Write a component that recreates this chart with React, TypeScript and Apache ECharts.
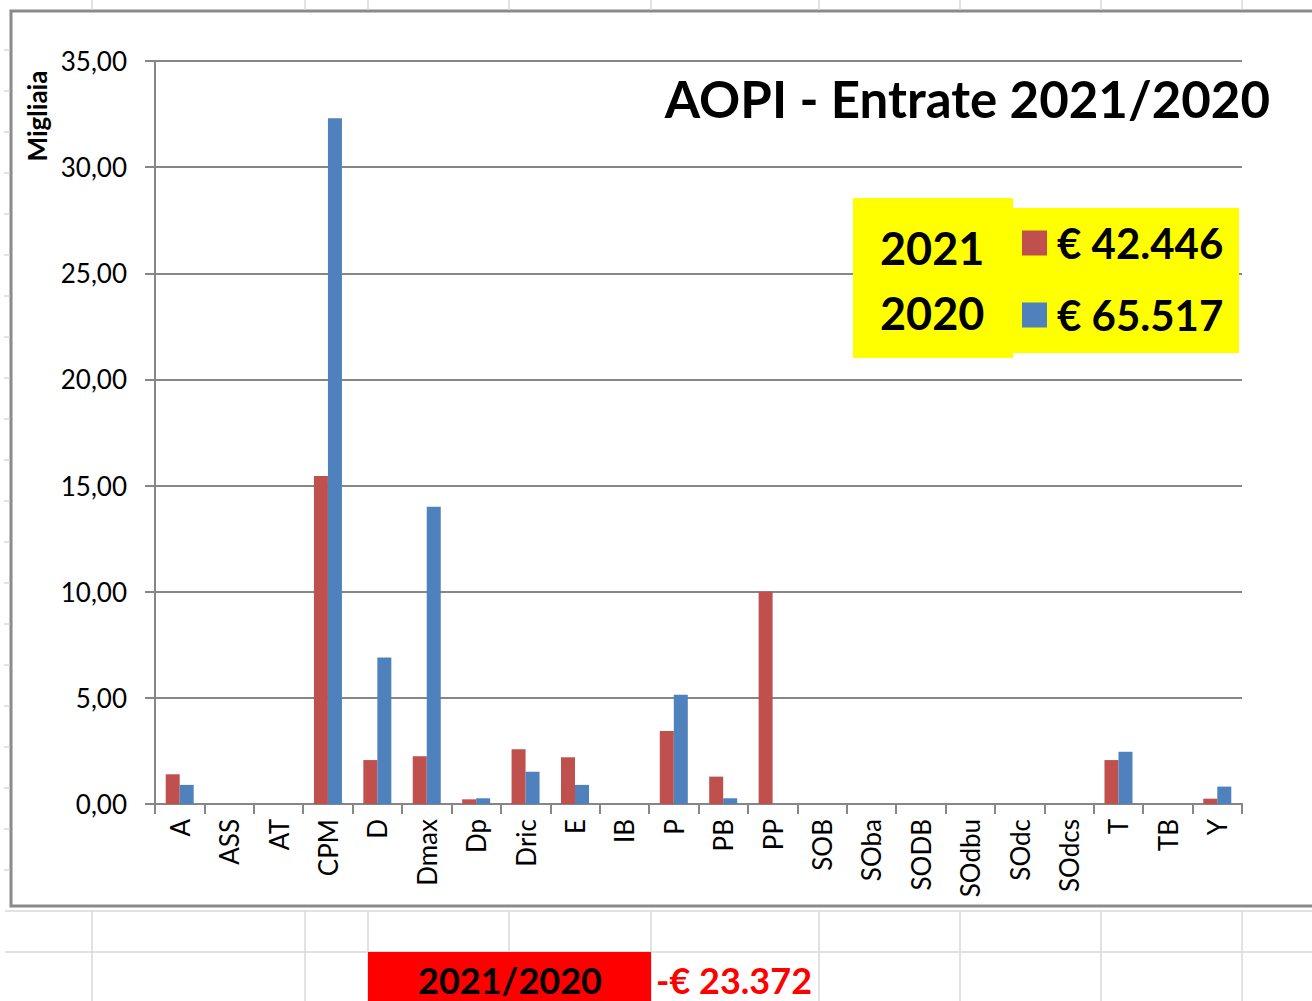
import React, { useEffect, useRef } from "react";
import * as echarts from "echarts";

const categories = ["A", "ASS", "AT", "CPM", "D", "Dmax", "Dp", "Dric", "E", "IB", "P", "PB", "PP", "SOB", "SOba", "SODB", "SOdbu", "SOdc", "SOdcs", "T", "TB", "Y"];
const values2021 = [1.4, 0, 0, 15.45, 2.07, 2.25, 0.22, 2.58, 2.2, 0, 3.44, 1.29, 10.0, 0, 0, 0, 0, 0, 0, 2.07, 0, 0.25];
const values2020 = [0.9, 0, 0, 32.3, 6.9, 14.0, 0.27, 1.52, 0.9, 0, 5.15, 0.27, 0, 0, 0, 0, 0, 0, 0, 2.46, 0, 0.82];
const seriesNames = ["2021", "2020"];
const totals = [42446, 65517];
const differenceLabel = "2021/2020";
const difference = -23372;
const yTicks = { min: 0, max: 35, interval: 5 };

const RED = "#C0504D";
const BLUE = "#4F81BD";
const FONT = "Lato";

function fmtEuro(v: number): string {
  const abs = Math.abs(Math.round(v)).toString();
  const grouped = abs.replace(/\B(?=(\d{3})+(?!\d))/g, ".");
  return (v < 0 ? "-" : "") + "€ " + grouped;
}

export default function App() {
  const ref = useRef<HTMLDivElement>(null);
  useEffect(() => {
    if (!ref.current) return;
    document.body.style.margin = "0";
    const chart = echarts.init(ref.current, undefined, { renderer: "svg" });

    const sheetCols = [92, 305, 368, 509, 651, 819, 960, 1101, 1242];
    const sheetGray = "#d9d9d9";
    const sheet: any[] = [];
    sheetCols.forEach((x) => {
      sheet.push({ type: "line", shape: { x1: x, y1: 0, x2: x, y2: 10 }, style: { stroke: sheetGray, lineWidth: 1.5 }, silent: true });
      sheet.push({ type: "line", shape: { x1: x, y1: 911, x2: x, y2: 1001 }, style: { stroke: sheetGray, lineWidth: 1.5 }, silent: true });
    });
    for (let y = 50; y <= 890; y += 41) {
      sheet.push({ type: "line", shape: { x1: 4, y1: y, x2: 10, y2: y }, style: { stroke: sheetGray, lineWidth: 1.5 }, silent: true });
    }
    [911, 952].forEach((y) => {
      sheet.push({ type: "line", shape: { x1: 5, y1: y, x2: 1312, y2: y }, style: { stroke: sheetGray, lineWidth: 1.5 }, silent: true });
    });

    const option: any = {
      animation: false,
      backgroundColor: "#ffffff",
      grid: { left: 155, right: 70, top: 61, bottom: 197, containLabel: false },
      legend: {
        data: seriesNames,
        orient: "vertical",
        left: 1017,
        top: 217,
        z: 6,
        itemWidth: 25,
        itemHeight: 25,
        itemGap: 30,
        icon: "rect",
        selectedMode: false,
        formatter: (name: string) => fmtEuro(totals[seriesNames.indexOf(name)]),
        textStyle: { fontFamily: FONT, fontWeight: "bold", fontSize: 42, color: "#000", lineHeight: 25, padding: [0, 0, 0, 5] },
      },
      xAxis: {
        type: "category",
        data: categories,
        axisLine: { lineStyle: { color: "#868686", width: 2 } },
        axisTick: { show: true, length: 10, lineStyle: { color: "#868686", width: 2 } },
        axisLabel: { rotate: 90, interval: 0, margin: 15, fontFamily: FONT, fontSize: 26, color: "#000" },
      },
      yAxis: {
        type: "value",
        min: yTicks.min,
        max: yTicks.max,
        interval: yTicks.interval,
        axisLine: { show: true, lineStyle: { color: "#868686", width: 2 } },
        axisTick: { show: true, length: 10, lineStyle: { color: "#868686", width: 2 } },
        splitLine: { lineStyle: { color: "#868686", width: 2 } },
        axisLabel: {
          margin: 28,
          fontFamily: FONT,
          fontSize: 26,
          color: "#000",
          formatter: (v: number) => v.toFixed(2).replace(".", ","),
        },
      },
      series: [
        { name: seriesNames[0], type: "bar", data: values2021, itemStyle: { color: RED }, barWidth: 14, barGap: "0%" },
        { name: seriesNames[1], type: "bar", data: values2020, itemStyle: { color: BLUE }, barWidth: 14, barGap: "0%" },
      ],
      graphic: [
        ...sheet,
        { type: "rect", z: -1, shape: { x: 11, y: 11, width: 1320, height: 895 }, style: { fill: "none", stroke: "#8a8a8a", lineWidth: 3 }, silent: true },
        {
          type: "text", x: 37, y: 116, rotation: Math.PI / 2,
          style: { text: "Migliaia", fontFamily: FONT, fontWeight: "bold", fontSize: 26, fill: "#000", textAlign: "center", textVerticalAlign: "middle" },
        },
        {
          type: "text", x: 1270, y: 98,
          style: { text: "AOPI - Entrate 2021/2020", fontFamily: FONT, fontWeight: "bold", fontSize: 51, fill: "#000", textAlign: "right", textVerticalAlign: "middle" },
        },
        { type: "rect", z: 4, shape: { x: 853, y: 198, width: 160, height: 160 }, style: { fill: "#FFFF00" }, silent: true },
        { type: "rect", z: 4, shape: { x: 1013, y: 208, width: 226, height: 145 }, style: { fill: "#FFFF00" }, silent: true },
        {
          type: "text", x: 880, y: 248, z: 10,
          style: { text: seriesNames[0], fontFamily: FONT, fontWeight: "bold", fontSize: 45, fill: "#000", textAlign: "left", textVerticalAlign: "middle" },
        },
        {
          type: "text", x: 880, y: 313, z: 10,
          style: { text: seriesNames[1], fontFamily: FONT, fontWeight: "bold", fontSize: 45, fill: "#000", textAlign: "left", textVerticalAlign: "middle" },
        },
        { type: "rect", shape: { x: 368, y: 952, width: 283, height: 50 }, style: { fill: "#FF0000" }, silent: true },
        {
          type: "text", x: 510, y: 980,
          style: { text: differenceLabel, fontFamily: FONT, fontWeight: "bold", fontSize: 36, fill: "#000", textAlign: "center", textVerticalAlign: "middle" },
        },
        {
          type: "text", x: 656, y: 980,
          style: { text: fmtEuro(difference), fontFamily: FONT, fontWeight: "bold", fontSize: 36, fill: "#FF0000", textAlign: "left", textVerticalAlign: "middle" },
        },
      ],
    };
    chart.setOption(option);
    return () => chart.dispose();
  }, []);
  return <div ref={ref} style={{ position: "absolute", left: 0, top: 0, width: 1312, height: 1001 }} />;
}
